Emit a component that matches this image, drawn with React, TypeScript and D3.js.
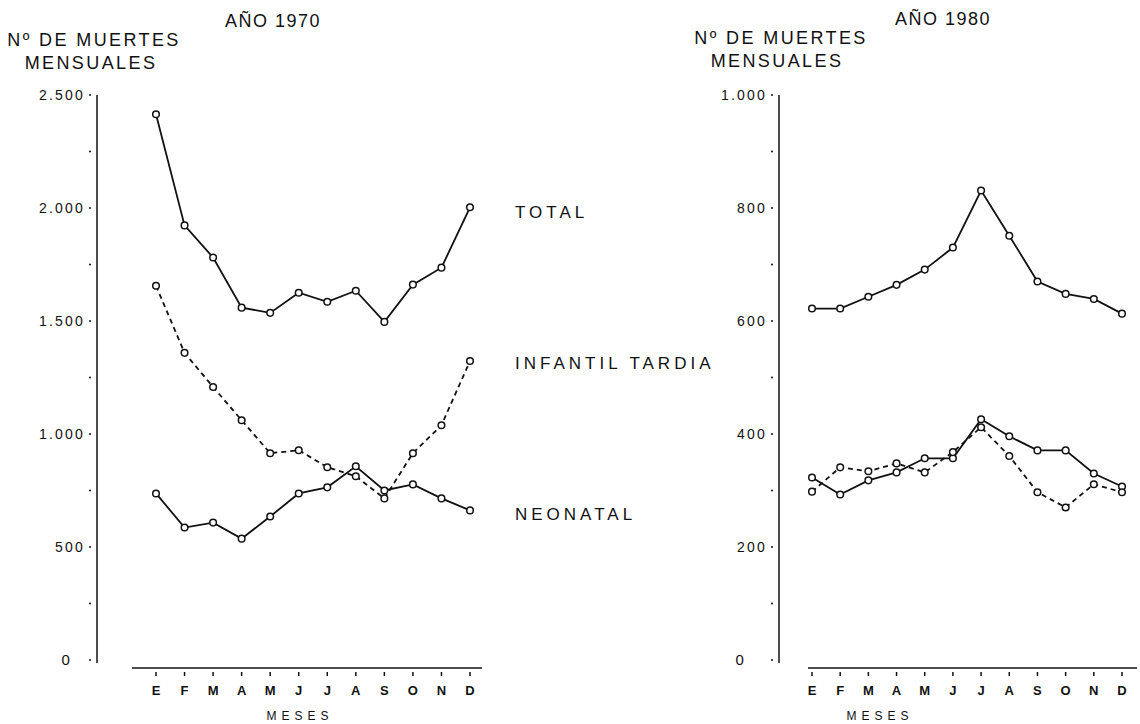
import * as d3 from 'd3';
import React, { useEffect, useRef } from 'react';

// meses
const months = ['E', 'F', 'M', 'A', 'M', 'J', 'J', 'A', 'S', 'O', 'N', 'D'];

// año 1970
const total1970 = [2415, 1923, 1781, 1559, 1536, 1625, 1585, 1634, 1496, 1661, 1736, 2003];
const tardia1970 = [1656, 1359, 1208, 1061, 915, 928, 853, 813, 715, 915, 1039, 1323];
const neonatal1970 = [737, 586, 608, 537, 635, 737, 764, 857, 750, 777, 715, 662];

// año 1980
const total1980 = [622, 622, 643, 664, 691, 730, 831, 751, 670, 648, 639, 613];
const neonatal1980 = [323, 293, 318, 332, 357, 357, 426, 396, 371, 371, 330, 307];
const tardia1980 = [298, 341, 334, 348, 332, 368, 412, 361, 297, 270, 311, 297];

const ticks1970 = [0, 500, 1000, 1500, 2000, 2500];
const ticks1980 = [0, 200, 400, 600, 800, 1000];
const seriesLabels = ['TOTAL', 'INFANTIL TARDIA', 'NEONATAL'];

const FONT = 'Liberation Sans, Arial, sans-serif';

export default function App() {
  const ref = useRef<SVGSVGElement>(null);

  useEffect(() => {
    const svg = d3.select(ref.current);
    svg.selectAll('*').remove();

    function panel(opts: any) {
      const g = svg.append('g');
      const x = d3.scalePoint().domain(d3.range(12).map(String)).range(opts.xRange);
      const y = d3.scaleLinear().domain([0, opts.max]).range([660, 95]);
      const fmt = (v: number) => (v >= 1000 ? d3.format(',')(v).replace(',', '.') : String(v));

      // eje y
      g.append('line')
        .attr('x1', opts.axisX).attr('x2', opts.axisX)
        .attr('y1', 95).attr('y2', 663)
        .attr('stroke', '#111').attr('stroke-width', 1.5);
      const minor = d3.range(0, opts.max + 1, opts.max / 10);
      g.selectAll('.minor')
        .data(minor)
        .enter()
        .append('circle')
        .attr('cx', opts.axisX - 7)
        .attr('cy', (d) => y(d))
        .attr('r', 1.1)
        .attr('fill', '#222');
      g.selectAll('.ylab')
        .data(opts.ticks)
        .enter()
        .append('text')
        .attr('x', (d: number) => opts.axisX - (d === 0 ? opts.zeroOff : 12))
        .attr('y', (d: number) => y(d) + 5)
        .attr('text-anchor', 'end')
        .attr('font-family', FONT)
        .attr('font-size', (d: number) => (d === 0 ? 15 : 14))
        .attr('letter-spacing', 2.2)
        .attr('fill', '#111')
        .text((d: number) => fmt(d));

      // eje x
      g.append('line')
        .attr('x1', opts.xLine[0]).attr('x2', opts.xLine[1])
        .attr('y1', 668).attr('y2', 668)
        .attr('stroke', '#111').attr('stroke-width', 1.5);
      g.selectAll('.xt')
        .data(months)
        .enter()
        .append('line')
        .attr('x1', (d, i) => x(String(i)))
        .attr('x2', (d, i) => x(String(i)))
        .attr('y1', 672).attr('y2', 676)
        .attr('stroke', '#111').attr('stroke-width', 1.5);
      g.selectAll('.xlab')
        .data(months)
        .enter()
        .append('text')
        .attr('x', (d, i) => x(String(i)))
        .attr('y', 695)
        .attr('text-anchor', 'middle')
        .attr('font-family', FONT)
        .attr('font-size', 13)
        .attr('font-weight', 'bold')
        .attr('fill', '#111')
        .text((d) => d);
      g.append('text')
        .attr('x', opts.mesesX)
        .attr('y', 720)
        .attr('text-anchor', 'middle')
        .attr('font-family', FONT)
        .attr('font-size', 12)
        .attr('letter-spacing', 5)
        .attr('fill', '#111')
        .text('MESES');

      // titulos
      g.append('text')
        .attr('x', opts.titleX).attr('y', opts.titleY)
        .attr('text-anchor', 'middle')
        .attr('font-family', FONT).attr('font-size', 18).attr('letter-spacing', 1.5).attr('fill', '#111')
        .text(opts.title);
      g.append('text')
        .attr('x', opts.ylabX[0]).attr('y', opts.titleY + 19)
        .attr('text-anchor', 'middle')
        .attr('font-family', FONT).attr('font-size', 18).attr('letter-spacing', 2.4).attr('fill', '#111')
        .text('Nº DE MUERTES');
      g.append('text')
        .attr('x', opts.ylabX[1]).attr('y', opts.titleY + 42)
        .attr('text-anchor', 'middle')
        .attr('font-family', FONT).attr('font-size', 18).attr('letter-spacing', 2.4).attr('fill', '#111')
        .text('MENSUALES');

      const line = d3
        .line<number>()
        .x((d, i) => x(String(i)) as number)
        .y((d) => y(d));

      opts.series.forEach((s: any) => {
        g.append('path')
          .datum(s.values)
          .attr('d', line)
          .attr('fill', 'none')
          .attr('stroke', '#111')
          .attr('stroke-width', 1.8)
          .attr('stroke-dasharray', s.dashed ? '5,4' : null);
      });
      opts.series.forEach((s: any) => {
        g.selectAll(null)
          .data(s.values)
          .enter()
          .append('circle')
          .attr('cx', (d, i) => x(String(i)))
          .attr('cy', (d: number) => y(d))
          .attr('r', 3.3)
          .attr('fill', '#fff')
          .attr('stroke', '#111')
          .attr('stroke-width', 1.5);
      });
    }

    panel({
      xRange: [156, 470],
      xLine: [132, 482],
      axisX: 97,
      zeroOff: 25,
      max: 2500,
      ticks: ticks1970,
      mesesX: 300,
      titleX: 273,
      titleY: 27,
      ylabX: [94, 91],
      title: 'AÑO 1970',
      series: [
        { values: total1970, dashed: false },
        { values: tardia1970, dashed: true },
        { values: neonatal1970, dashed: false }
      ]
    });

    panel({
      xRange: [812, 1122],
      xLine: [808, 1137],
      axisX: 779,
      zeroOff: 33,
      max: 1000,
      ticks: ticks1980,
      mesesX: 880,
      titleX: 943,
      titleY: 25,
      ylabX: [781, 777],
      title: 'AÑO 1980',
      series: [
        { values: total1980, dashed: false },
        { values: neonatal1980, dashed: false },
        { values: tardia1980, dashed: true }
      ]
    });

    // etiquetas de las series
    const labY = [218, 369, 520];
    svg
      .selectAll('.serie')
      .data(seriesLabels)
      .enter()
      .append('text')
      .attr('x', 515)
      .attr('y', (d, i) => labY[i])
      .attr('font-family', FONT)
      .attr('font-size', 17)
      .attr('letter-spacing', 4)
      .attr('fill', '#111')
      .text((d) => d);
  }, []);

  return (
    <svg
      ref={ref}
      width={1140}
      height={724}
      style={{ position: 'absolute', left: 0, top: 0, background: '#fff' }}
    />
  );
}
